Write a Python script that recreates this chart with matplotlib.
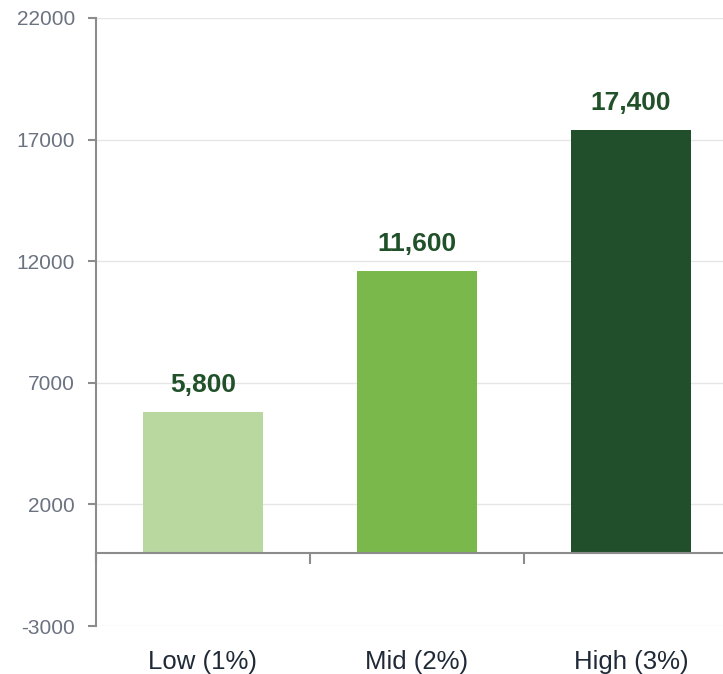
import matplotlib
matplotlib.use("Agg")
import matplotlib.pyplot as plt

categories = ["Low (1%)", "Mid (2%)", "High (3%)"]
values = [5800, 11600, 17400]
value_labels = ["5,800", "11,600", "17,400"]
colors = ["#b8d8a0", "#7ab84c", "#214f2c"]
yticks = [-3000, 2000, 7000, 12000, 17000, 22000]

plt.rcParams['font.family'] = ['Liberation Sans', 'DejaVu Sans']

fig = plt.figure(figsize=(7.23, 6.74), dpi=100)
ax = fig.add_axes([96/723, 48/674, 642/723, 608/674])

x = list(range(len(categories)))
ax.bar(x, values, width=0.56, color=colors, zorder=3)

ax.set_xlim(-0.5, len(categories) - 0.5)
ax.set_ylim(yticks[0], yticks[-1])
ax.set_yticks(yticks)
ax.set_yticklabels([str(t) for t in yticks], fontsize=15, color="#6b7280")
ax.yaxis.grid(True, color="#e6e6e6", linewidth=1.0, zorder=0)
ax.tick_params(axis='y', length=6, width=1.5, color="#8c8c8c", pad=9)

ax.set_xticks(x)
ax.set_xticklabels(categories, fontsize=18.5, color="#1f2937")
ax.tick_params(axis='x', length=0, pad=17)

for s in ["top", "right", "bottom"]:
    ax.spines[s].set_visible(False)
ax.spines["left"].set_color("#8c8c8c")
ax.spines["left"].set_linewidth(1.5)

# zero baseline with category boundary ticks
zero_frac = (0 - yticks[0]) / (yticks[-1] - yticks[0])
sec = ax.secondary_xaxis(zero_frac)
sec.set_xticks([i + 0.5 for i in range(-1, len(categories))])
sec.set_xticklabels([])
sec.tick_params(axis='x', direction='out', length=8, width=1.5, color="#8c8c8c")
sec.spines["bottom"].set_color("#8c8c8c")
sec.spines["bottom"].set_linewidth(1.5)
sec.set_zorder(4)

for xi, v, lab in zip(x, values, value_labels):
    ax.annotate(lab, (xi, v), xytext=(0, 11), textcoords="offset points",
                ha="center", va="bottom", fontsize=19, fontweight="bold",
                color="#215129", zorder=5)

fig.savefig("out.png", dpi=100)
